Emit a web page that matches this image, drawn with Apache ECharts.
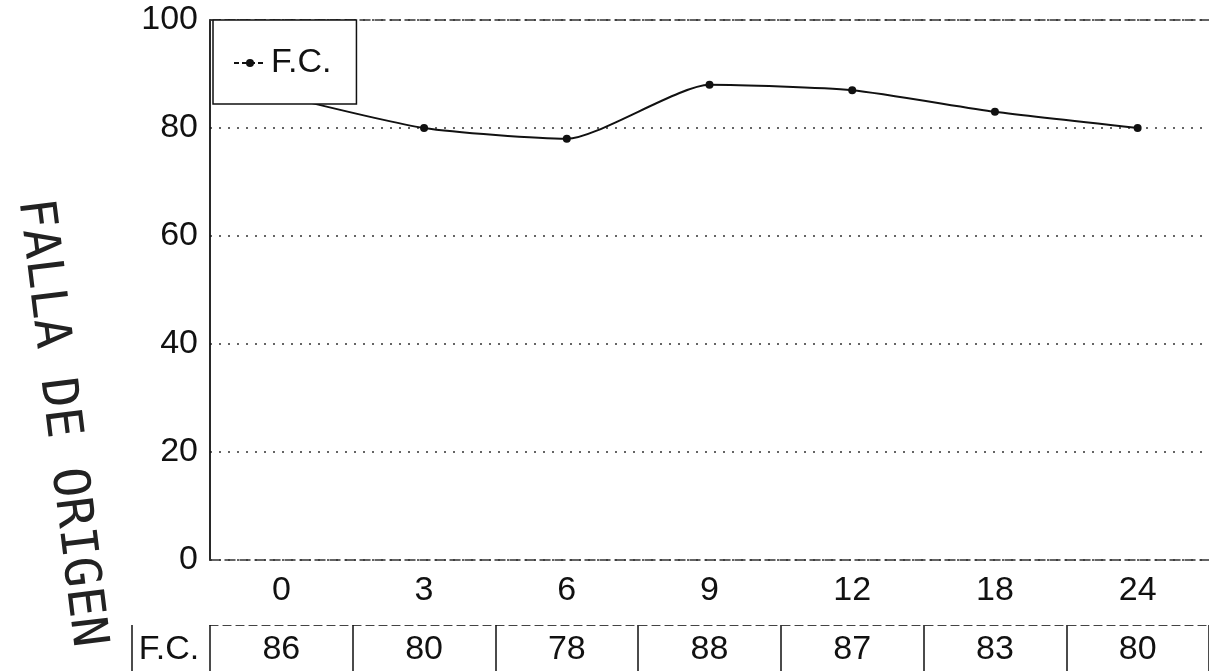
<!DOCTYPE html>
<html>
<head>
<meta charset="utf-8">
<title>F.C.</title>
<script src="https://cdn.jsdelivr.net/npm/echarts@6/dist/echarts.min.js"></script>
<style>
  html, body { margin: 0; padding: 0; background: #fff; }
  #main { width: 1209px; height: 671px; }
</style>
</head>
<body>
<div id="main"></div>
<script>
// datos
var horas = ['0', '3', '6', '9', '12', '18', '24']
var valoresFC = [86, 80, 78, 88, 87, 83, 80]
var nombreSerie = 'F.C.'
var tituloY = 'FALLA DE ORIGEN'

var tinta = '#111'
var fuente = '"Liberation Sans", Arial, sans-serif'

var chart = echarts.init(document.getElementById('main'))

chart.setOption({
  backgroundColor: '#fff',
  animation: false,
  textStyle: { fontFamily: fuente, color: tinta },
  grid: {
    left: 210,
    top: 20,
    width: 1001,
    height: 540
  },
  legend: {
    left: 213,
    top: 20,
    padding: [26, 25, 24, 20],
    backgroundColor: '#fff',
    borderColor: tinta,
    borderWidth: 1.5,
    itemWidth: 32,
    itemHeight: 10,
    itemGap: 0,
    textStyle: { fontSize: 34, color: tinta, fontFamily: fuente },
    lineStyle: { type: [5, 3] },
    data: [nombreSerie]
  },
  xAxis: [
    {
      // eje inferior con las horas
      type: 'category',
      data: horas,
      position: 'bottom',
      axisLine: { lineStyle: { color: '#333', width: 1.5, type: [10, 5] } },
      axisTick: { show: false },
      axisLabel: { fontSize: 34, color: tinta, margin: 14 },
      splitLine: { show: false }
    },
    {
      // borde superior
      type: 'category',
      data: horas,
      position: 'top',
      axisLine: { lineStyle: { color: '#333', width: 1.5, type: [10, 5] } },
      axisTick: { show: false },
      axisLabel: { show: false }
    },
    {
      // fila de la tabla: valores debajo de cada hora
      type: 'category',
      data: horas,
      position: 'bottom',
      offset: 65,
      axisLine: { lineStyle: { color: '#444', width: 1.2, type: [8, 5] } },
      axisTick: { show: true, length: 50, lineStyle: { color: tinta, width: 1.5 } },
      axisLabel: {
        fontSize: 34,
        color: tinta,
        margin: 8,
        formatter: function(v, i) {
          return String(valoresFC[i])
        }
      }
    }
  ],
  yAxis: {
    type: 'value',
    min: 0,
    max: 100,
    interval: 20,
    axisLine: { show: true, lineStyle: { color: tinta, width: 1.8 } },
    axisTick: { show: false },
    axisLabel: { fontSize: 34, color: tinta, margin: 12 },
    splitLine: { lineStyle: { color: '#333', width: 1.5, type: [2, 7] } }
  },
  series: [
    {
      name: nombreSerie,
      type: 'line',
      data: valoresFC,
      smooth: 0.2,
      symbol: 'circle',
      symbolSize: 8,
      itemStyle: { color: tinta },
      lineStyle: { color: tinta, width: 2 }
    }
  ],
  graphic: [
    {
      // sello vertical a la izquierda
      type: 'text',
      x: 60,
      y: 423,
      rotation: -83 * Math.PI / 180,
      style: {
        text: tituloY,
        font: '50px "DejaVu Sans Mono", monospace',
        fill: '#222',
        align: 'center',
        verticalAlign: 'middle'
      }
    },
    {
      // etiqueta de la fila de la tabla
      type: 'text',
      x: 169,
      y: 650,
      style: {
        text: nombreSerie,
        font: '34px ' + fuente,
        fill: tinta,
        align: 'center',
        verticalAlign: 'middle'
      }
    },
    {
      type: 'line',
      shape: { x1: 132, y1: 625, x2: 132, y2: 671 },
      style: { stroke: tinta, lineWidth: 1.5 }
    }
  ]
})
</script>
</body>
</html>
